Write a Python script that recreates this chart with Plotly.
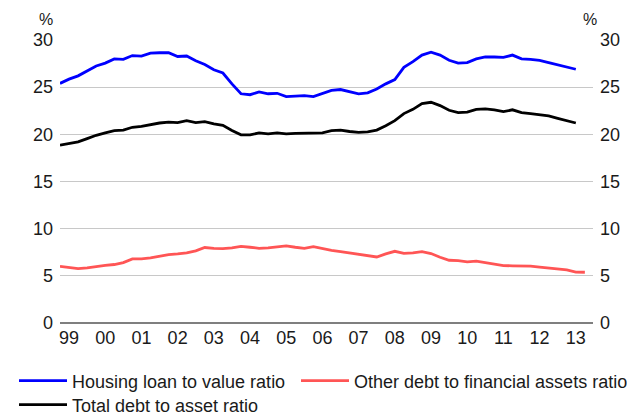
import plotly.graph_objects as go

start_year = 1999
housing_ltv = [25.4, 25.85, 26.2, 26.75, 27.25, 27.55, 28.0, 27.95, 28.35, 28.3,
               28.6, 28.65, 28.65, 28.25, 28.3, 27.8, 27.4, 26.85, 26.5, 25.35,
               24.3, 24.2, 24.5, 24.3, 24.35, 24.0, 24.05, 24.1, 24.0, 24.3,
               24.65, 24.75, 24.55, 24.3, 24.4, 24.8, 25.35, 25.8, 27.1, 27.7,
               28.4, 28.7, 28.4, 27.85, 27.55, 27.6, 28.0, 28.2, 28.2, 28.15,
               28.4, 28.0, 27.95, 27.85, 27.6, 27.35, 27.1, 26.9]
other_debt = [6.0, 5.85, 5.77, 5.85, 6.0, 6.1, 6.2, 6.4, 6.8, 6.8,
              6.9, 7.08, 7.25, 7.32, 7.43, 7.64, 8.0, 7.92, 7.89, 7.96,
              8.13, 8.03, 7.92, 7.96, 8.1, 8.17, 8.03, 7.92, 8.1, 7.89,
              7.71, 7.57, 7.43, 7.29, 7.11, 7.0, 7.32, 7.6, 7.39, 7.43,
              7.57, 7.36, 6.97, 6.65, 6.62, 6.48, 6.55, 6.37, 6.27, 6.09,
              6.06, 6.06, 6.02, 5.92, 5.85, 5.7, 5.63, 5.4, 5.38]
total_debt = [18.85, 19.0, 19.2, 19.55, 19.9, 20.15, 20.4, 20.45, 20.75, 20.85,
              21.05, 21.2, 21.3, 21.25, 21.45, 21.25, 21.35, 21.1, 20.95, 20.4,
              19.95, 19.95, 20.15, 20.05, 20.15, 20.05, 20.1, 20.1, 20.1, 20.15,
              20.4, 20.45, 20.3, 20.2, 20.25, 20.45, 20.9, 21.45, 22.2, 22.65,
              23.25, 23.4, 23.05, 22.55, 22.3, 22.35, 22.65, 22.7, 22.6, 22.4,
              22.6, 22.3, 22.2, 22.05, 21.95, 21.7, 21.45, 21.2]
year_labels = ["99", "00", "01", "02", "03", "04", "05", "06", "07", "08",
               "09", "10", "11", "12", "13"]
y_ticks = [0, 5, 10, 15, 20, 25, 30]


def quarters(n):
    return [start_year + i / 4 for i in range(n)]


FONT = "Liberation Sans, Arial, sans-serif"
TXT = "#1a1a1a"
# the page body adds an 8px offset, so the figure is sized to fit the window
W, H = 627, 410

fig = go.Figure()
fig.add_trace(go.Scatter(x=quarters(len(housing_ltv)), y=housing_ltv, mode="lines",
                         name="Housing loan to value ratio",
                         line=dict(color="#0000FF", width=2.8), legend="legend"))
fig.add_trace(go.Scatter(x=quarters(len(other_debt)), y=other_debt, mode="lines",
                         name="Other debt to financial assets ratio",
                         line=dict(color="#FF5555", width=2.8), legend="legend3"))
fig.add_trace(go.Scatter(x=quarters(len(total_debt)), y=total_debt, mode="lines",
                         name="Total debt to asset ratio",
                         line=dict(color="#000000", width=2.8), legend="legend2"))
# invisible trace to drive right axis
fig.add_trace(go.Scatter(x=[start_year], y=[0], mode="lines", yaxis="y2",
                         showlegend=False, hoverinfo="skip",
                         line=dict(color="rgba(0,0,0,0)")))

tickvals = [start_year + i + 0.25 for i in range(len(year_labels))]


def leg(xpx, ypx):
    return dict(orientation="h", xref="container", yref="container",
                x=xpx / W, y=1 - ypx / H, xanchor="left", yanchor="middle",
                font=dict(size=18), itemwidth=48, bgcolor="rgba(0,0,0,0)")


fig.update_layout(
    width=W, height=H,
    margin=dict(l=52, r=42, t=32, b=95, autoexpand=False),
    paper_bgcolor="white", plot_bgcolor="white",
    font=dict(family=FONT, size=18, color=TXT),
    xaxis=dict(range=[start_year, start_year + 58.9 / 4], tickvals=tickvals,
               ticktext=year_labels, showgrid=False, zeroline=False, automargin=False,
               showline=False, ticks="", tickfont=dict(size=18), ticklabelstandoff=2),
    yaxis=dict(range=[0, 30], tickvals=y_ticks, showgrid=True, gridcolor="#C8C8C8",
               gridwidth=1, zeroline=True, zerolinecolor="#7F7F7F", zerolinewidth=2,
               ticks="", showline=False, tickfont=dict(size=18), automargin=False,
               ticklabelstandoff=6),
    yaxis2=dict(range=[0, 30], tickvals=y_ticks, overlaying="y", side="right",
                showgrid=False, zeroline=False, ticks="", showline=False,
                tickfont=dict(size=18), automargin=False, ticklabelstandoff=6),
    legend=leg(6, 373),
    legend3=leg(288, 373),
    legend2=leg(6, 397),
    showlegend=True,
    annotations=[
        dict(text="%", xref="paper", yref="paper", x=-0.026, y=1.111, showarrow=False,
             xanchor="center", yanchor="top", font=dict(size=16)),
        dict(text="%", xref="paper", yref="paper", x=0.994, y=1.111, showarrow=False,
             xanchor="center", yanchor="top", font=dict(size=16)),
    ],
)

fig.write_html("out.html")
